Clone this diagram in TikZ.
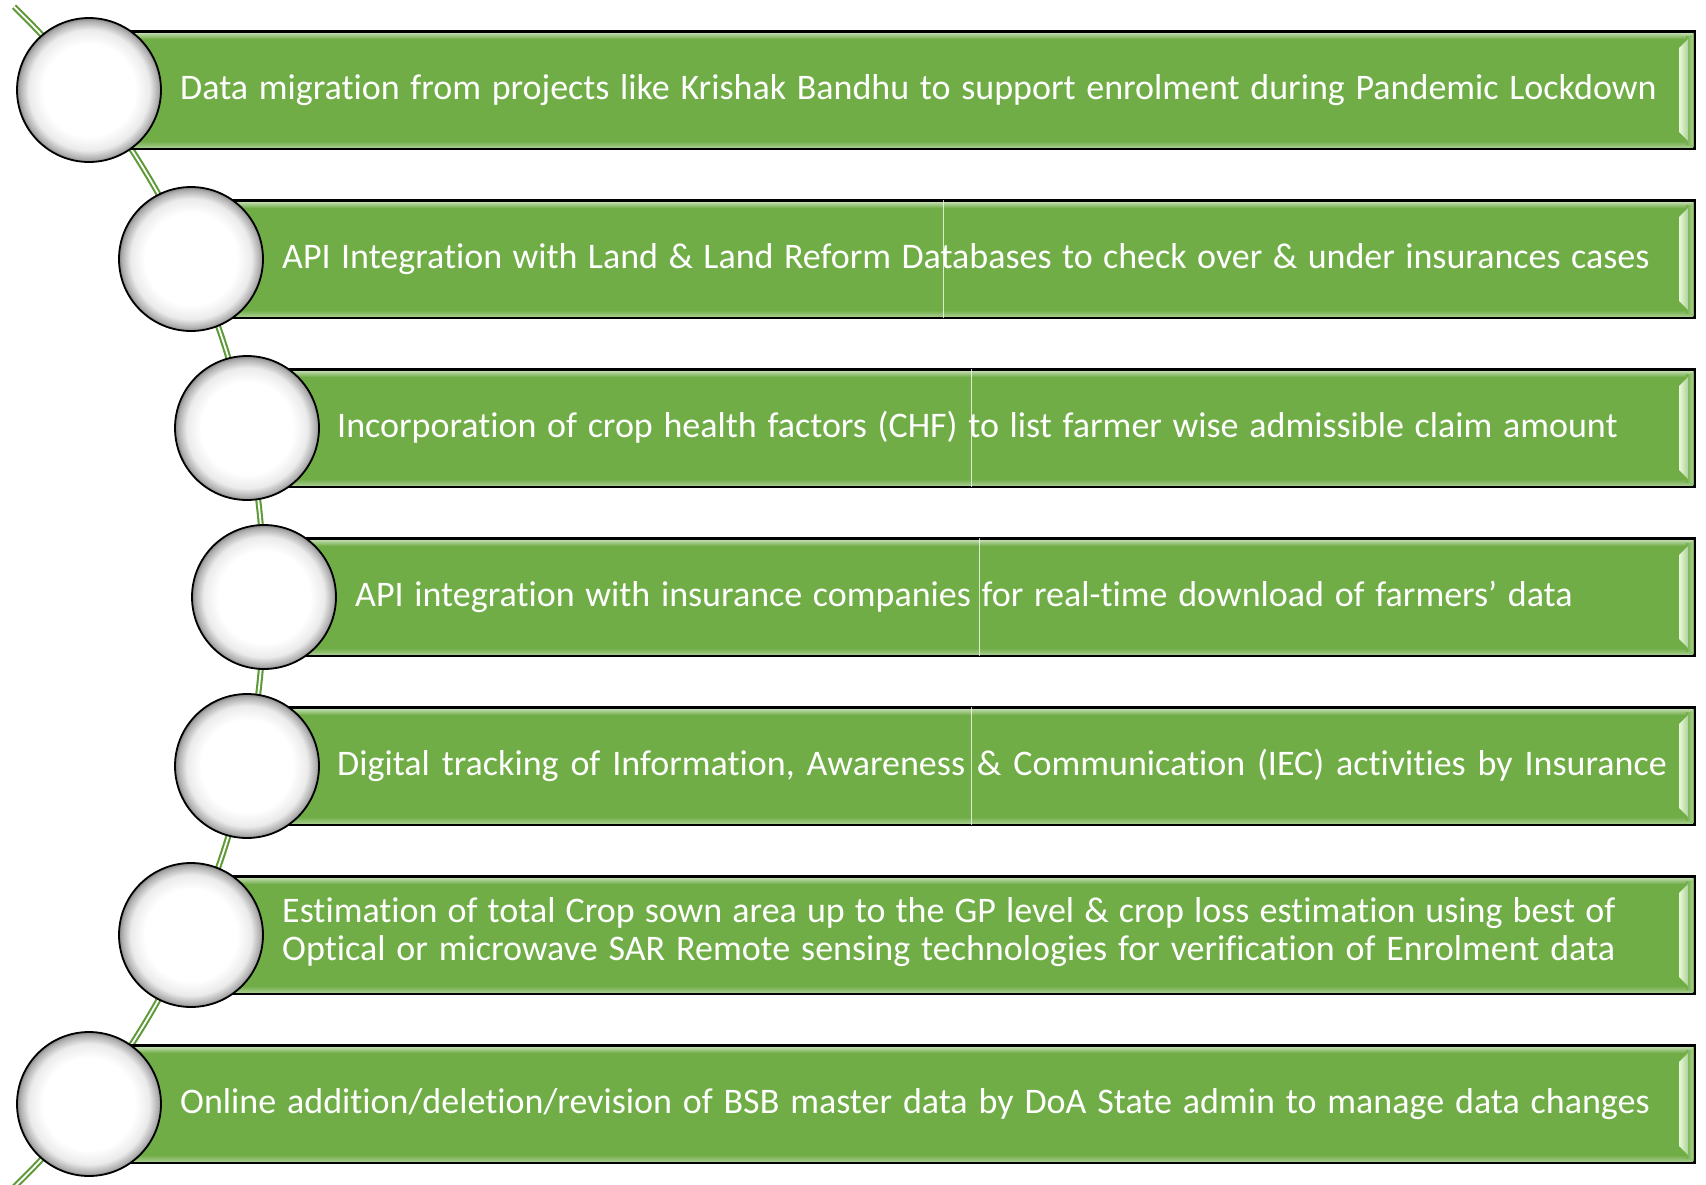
\documentclass[tikz,border=0pt]{standalone}
\usepackage{fontspec}
\setmainfont{Carlito}[Ligatures=NoCommon]
\definecolor{barg}{HTML}{70AD47}
\definecolor{lineg}{HTML}{5E9B38}
\definecolor{bevlight}{HTML}{EAF9DA}
\newcommand{\lblfont}{\fontsize{36}{38}\selectfont\spaceskip=10.7pt\relax}
\newcommand{\wsp}[1]{\spaceskip=#1pt\relax}
\pgfdeclareradialshading{ballshade}{\pgfpoint{0bp}{0bp}}{color(0bp)=(white); color(16bp)=(white); color(21bp)=(black!8); color(24bp)=(black!32); color(25bp)=(black!48); color(50bp)=(black!48)}
\newcommand{\mkbar}[3]{% name, cx, cy
  \node[barbox, minimum width={1694-#2}, anchor=west] (b#1) at (#2,#3) {};
  \shade[top color=barg!45!white, bottom color=barg] (#2,#3-57) rectangle (1693,#3-51);
  \shade[top color=barg, bottom color=barg!65!white] (#2,#3+51) rectangle (1693,#3+57);
  \shade[left color=barg, right color=barg!60!white] (1686,#3-54) rectangle (1693,#3+54);
  \shade[left color=bevlight, right color=barg!55!white] (1679,#3-42) -- (1688,#3-51) -- (1688,#3+51) -- (1679,#3+42) -- cycle;
  \draw[black, line width=1.6pt] (b#1.north west) rectangle (b#1.south east);
}
\begin{document}
\begin{tikzpicture}[x=1pt,y=-1pt,
  barbox/.style={rectangle, fill=barg, draw=black, line width=1.6pt, minimum height=116pt, inner sep=0pt},
  ball/.style={circle, minimum size=144pt, inner sep=0pt, draw=black, line width=1.8pt, shading=ballshade},
  lbl/.style={text=white, anchor=base west, font=\lblfont, inner sep=0pt, align=left},
  conn/.style={draw=lineg, line width=2.1pt, double=white, double distance=1.8pt},
  seam/.style={draw=white, line width=0.8pt, opacity=0.75}]
\useasboundingbox (0,0) rectangle (1706,1184);
\fill[white] (0,0) rectangle (1706,1184);
% arc through the circle centres
\coordinate (ac) at (-558,597);
\draw[conn] (ac) ++(45.9:822pt) coordinate (arcTop) arc[start angle=45.9, end angle=-48, radius=822pt] coordinate (arcBot);
% bars
\mkbar{1}{89}{90}
\mkbar{2}{191}{259}
\mkbar{3}{247}{428}
\mkbar{4}{264}{597}
\mkbar{5}{247}{766}
\mkbar{6}{191}{935}
\mkbar{7}{89}{1104}
% seams
\draw[seam] (b2.north) -- (b2.south);
\draw[seam] (b3.north) -- (b3.south);
\draw[seam] (b4.north) -- (b4.south);
\draw[seam] (b5.north) -- (b5.south);
% circles
\node[ball] (c1) at (89,90) {};
\node[ball] (c2) at (191,259) {};
\node[ball] (c3) at (247,428) {};
\node[ball] (c4) at (264,597) {};
\node[ball] (c5) at (247,766) {};
\node[ball] (c6) at (191,935) {};
\node[ball] (c7) at (89,1104) {};
% texts
\node[lbl] (t1) at (180,99) {Data migration from projects like Krishak Bandhu to support enrolment during Pandemic Lockdown};
\node[lbl] (t2) at (282,268) {\wsp{10.4}API Integration with Land \& Land Reform Databases to check over \& under insurances cases};
\node[lbl] (t3) at (337,437) {Incorporation of crop health factors (CHF) to list farmer wise admissible claim amount};
\node[lbl] (t4) at (355,606) {API integration with insurance companies for real-time download of farmers’ data};
\node[lbl] (t5) at (337,775) {\wsp{11.9}Digital tracking of Information, Awareness \& Communication (IEC) activities by Insurance};
\node[lbl] (t6) at (282,960) {\wsp{10.1}Estimation of total Crop sown area up to the GP level \& crop loss estimation using best of\\\wsp{10.9}Optical or microwave SAR Remote sensing technologies for verification of Enrolment data};
\node[lbl] (t7) at (180,1113) {\wsp{10.9}Online addition/deletion/revision of BSB master data by DoA State admin to manage data changes};
\end{tikzpicture}
\end{document}
